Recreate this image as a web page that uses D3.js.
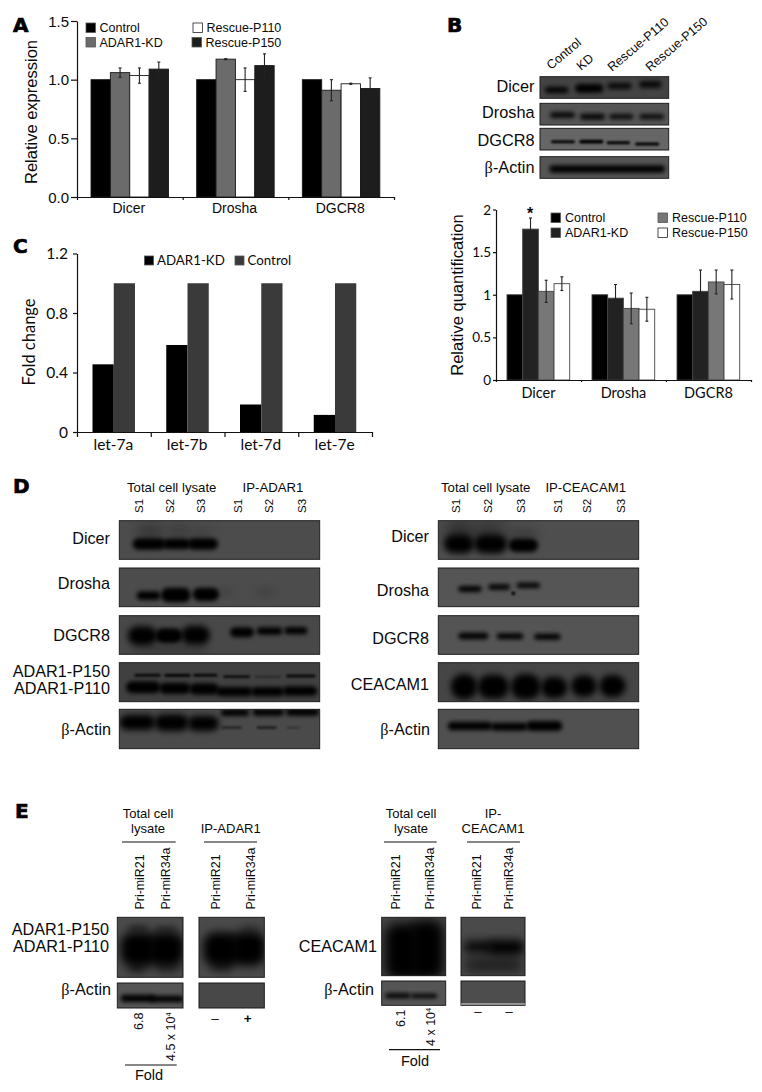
<!DOCTYPE html>
<html><head><meta charset="utf-8">
<script src="https://cdn.jsdelivr.net/npm/d3@7/dist/d3.min.js"></script>
<style>html,body{margin:0;padding:0;background:#fff}svg{display:block}text{font-family:"Liberation Sans",Arial,sans-serif;fill:#0a0a0a}</style>
</head><body><div id="c"></div>
<script>
// ---------- DATA ----------
const genes = ["Dicer","Drosha","DGCR8"];
const seriesA = ["Control","ADAR1-KD","Rescue-P110","Rescue-P150"];
const valuesA = [[1.0,1.06,1.035,1.09],[1.0,1.175,1.0,1.12],[1.0,0.91,0.965,0.925]];
const errorsA = [[0,0.04,0.065,0.06],[0,0.005,0.1,0.1],[0,0.09,0.005,0.09]];
const coloursA = ["#000","#6b6b6b","#fff","#1d1d1d"];
const ticksA = [0,0.5,1.0,1.5];

const seriesB = ["Control","ADAR1-KD","Rescue-P110","Rescue-P150"];
const valuesB = [[1.0,1.77,1.04,1.13],[1.0,0.96,0.84,0.83],[1.0,1.04,1.15,1.12]];
const errorsB = [[0,0.13,0.13,0.08],[0,0.16,0.18,0.14],[0,0.25,0.14,0.17]];
const coloursB = ["#000","#222","#777","#fff"];
const ticksB = [0,0.5,1,1.5,2];

const mirs = ["let-7a","let-7b","let-7d","let-7e"];
const seriesC = ["ADAR1-KD","Control"];
const kdC = [0.455,0.585,0.185,0.115];
const ctrlC = [1,1,1,1];
const ticksC = [0,0.4,0.8,1.2];

// Western-blot gels, in densitometry units: box [x0,x1,y0,y1]; bands [x0,x1,centre,height,opacity,blur]
const gelsB = [
 {bg:"#434343",box:[300,686,230,295],bands:[[315,385,270,20,.95],[405,490,265,26,1],[502,575,258,20,.85],[597,665,253,22,.85]]},
 {bg:"#555",box:[300,686,310,375],bands:[[330,405,345,18,.9],[420,495,350,18,.95],[508,580,350,16,.9],[598,672,350,16,.9]]},
 {bg:"#666",box:[300,686,385,450],bands:[[333,405,425,9,.95],[418,490,425,11,1],[500,570,428,9,1],[585,658,432,9,1]]},
 {bg:"#555",box:[300,686,470,535],bands:[[328,675,507,22,1]]}
];
const gelsDL = [
 {bg:"#4c4c4c",box:[358,959,152,268],bands:[[410,490,185,44,.28,6],[505,570,185,44,.2,6],[575,640,190,36,.15,6],[398,497,222,34,1],[488,572,222,32,1],[563,654,222,34,1]]},
 {bg:"#4c4c4c",box:[358,959,294,410],bands:[[410,482,377,26,1],[483,572,375,44,1],[578,657,373,40,1],[665,695,365,14,.25,4],[770,820,366,14,.25,4]]},
 {bg:"#484848",box:[358,959,437,553],bands:[[383,472,497,56,1,3],[466,547,497,44,1],[543,630,495,56,1,3],[690,762,487,30,1],[770,847,483,22,1],[853,922,482,22,1],[400,620,535,20,.3,5]]},
 {bg:"#404040",box:[358,959,578,695],bands:[[403,482,616,9,.85],[493,572,616,10,.85],[580,652,616,9,.85],[670,750,620,8,.8],[765,842,620,5,.45],[858,947,618,9,.85],[378,482,652,36,1],[478,572,655,34,1],[568,657,657,34,1],[648,757,665,28,1],[753,852,665,28,1],[848,952,663,28,1]]},
 {bg:"#4a4a4a",box:[358,959,718,836],bands:[[358,467,757,46,1,3],[463,567,758,50,1,3],[563,657,760,46,1,3],[663,747,728,20,1],[758,852,727,20,1],[858,957,726,22,1],[665,725,773,7,.6],[770,830,773,8,.6],[860,900,773,5,.35]]}
];
const gelsDR = [
 {bg:"#4e4e4e",box:[295,896,152,268],bands:[[315,400,185,50,.55,8],[405,495,185,50,.45,8],[510,590,195,30,.3,6],[312,402,222,56,1,3],[402,502,222,56,1,3],[506,594,226,40,1]]},
 {bg:"#555",box:[295,896,294,410],bands:[[355,425,357,18,1],[445,510,351,16,1],[530,600,346,16,1],[514,526,370,11,1,1]]},
 {bg:"#545454",box:[295,896,437,553],bands:[[355,445,498,20,1],[470,550,499,18,1],[582,662,500,18,1]]},
 {bg:"#454545",box:[295,896,578,695],bands:[[333,412,650,76,1,3],[413,507,650,72,1,3],[513,602,650,76,1,3],[603,682,652,64,1,3],[693,770,648,64,1,3],[778,857,648,66,1,3]]},
 {bg:"#505050",box:[295,896,718,836],bands:[[323,457,768,26,1],[453,562,770,24,1],[558,667,768,30,1]]}
];
const gelsEL = [
 {bg:"#4a4a4a",box:[352,549,352,532],bands:[[385,445,385,12,.7,3],[465,530,388,12,.6,3],[362,470,447,100,1,5],[445,552,447,100,1,5],[385,440,500,30,.7,5],[465,540,500,30,.5,5]]},
 {bg:"#4a4a4a",box:[597,793,352,532],bands:[[610,720,447,100,1,5],[695,797,447,100,1,5],[630,700,495,34,.6,5],[720,780,390,24,.4,5]]},
 {bg:"#555",box:[352,549,549,624],bands:[[362,465,595,22,1],[450,552,597,20,1]]},
 {bg:"#484848",box:[597,793,549,624],bands:[]}
];
const gelsER = [
 {bg:"#454545",box:[275,467,352,527],bands:[[285,390,455,170,1,6],[360,462,450,180,1,6]]},
 {bg:"#4a4a4a",box:[513,705,352,527],bands:[[520,610,440,34,.95,5],[590,705,442,46,1,5],[520,700,495,44,.6,6]]},
 {bg:"#555",box:[275,467,543,616],bands:[[285,362,587,15,1],[363,442,588,14,1]]},
 {bg:"#4d4d4d",box:[513,705,543,616],bands:[]}
];

// ---------- SETUP ----------
const svg = d3.select("#c").append("svg").attr("width",762).attr("height",1092).attr("viewBox","0 0 762 1092");
const defs = svg.append("defs");
[1,2,3,4,5,6,7,8].forEach(s=>defs.append("filter").attr("id","b"+s)
   .attr("x","-50%").attr("y","-150%").attr("width","200%").attr("height","400%")
   .append("feGaussianBlur").attr("stdDeviation",s));
const font = (sel,size,fam,w)=>sel.style("font-size",size+"px").style("font-family",fam||null).style("font-weight",w||null);
function txt(x,y,s,size,anchor,rot,fam){
  const t = svg.append("text").attr("text-anchor",anchor||"start").text(s);
  font(t,size,fam);
  t.attr("transform",`translate(${x},${y})`+(rot?` rotate(${rot})`:""));
  return t;
}
function panel(x,y,s){ 
  const t=txt(x,y,s,20,"start",0,"'DejaVu Sans'");
  t.style("font-weight","bold").style("stroke","#000").style("stroke-width",".7px").style("fill","#000");
}
function actin(x,y,size){ // Symbol-style beta
  const t = svg.append("text").attr("text-anchor","end").attr("x",x).attr("y",y);
  font(t,size);
  t.append("tspan").style("font-family","'Liberation Serif'").text("β");
  t.append("tspan").text("-Actin");
}
function styleAxis(g,w){ g.selectAll("path,line").attr("stroke","#111").attr("stroke-width",w||1.2); g.selectAll("text").remove(); }

// ---------- bar charts A, B ----------
function groupedBars(o){
  const y = d3.scaleLinear().domain(o.yDomain).range([o.y0,o.y1]);
  const x0 = d3.scaleBand().domain(genes).range([o.x0,o.x1]);
  const x1 = d3.scaleBand().domain(o.series).range([o.pad,o.pad+o.inner]);
  genes.forEach((g,i)=>{
    const G = svg.append("g").attr("transform",`translate(${x0(g)},0)`);
    G.selectAll("rect").data(o.values[i]).join("rect")
      .attr("x",(d,j)=>x1(o.series[j])).attr("y",d=>y(d)).attr("width",x1.bandwidth()).attr("height",d=>y(0)-y(d))
      .attr("fill",(d,j)=>o.colours[j]).attr("stroke",o.barStroke).attr("stroke-width",o.sw);
    const eb = G.selectAll("g.e").data(o.errors[i].map((e,j)=>({e,j,v:o.values[i][j]})).filter(d=>d.e>0)).join("g").attr("stroke",o.errStroke).attr("stroke-width",1.1);
    const cx = d=>x1(o.series[d.j])+x1.bandwidth()/2;
    eb.append("line").attr("x1",cx).attr("x2",cx).attr("y1",d=>y(d.v-d.e)).attr("y2",d=>y(d.v+d.e));
    ["-","+"].forEach(sg=>eb.append("line").attr("x1",d=>cx(d)-1.5).attr("x2",d=>cx(d)+1.5)
      .attr("y1",d=>y(d.v+(sg=="+"?d.e:-d.e))).attr("y2",d=>y(d.v+(sg=="+"?d.e:-d.e))));
    txt(x0(g)+x0.bandwidth()/2+o.labelDx,o.labelY,g,o.labelSize,"middle",0,o.labelFont);
  });
  const ax = svg.append("g").attr("transform",`translate(${o.x0},0)`).call(d3.axisLeft(y).tickValues(o.ticks).tickSize(o.tick).tickSizeOuter(0));
  styleAxis(ax);
  o.ticks.forEach(t=>txt(o.x0-o.tick-2,y(t)+o.tickDy,o.fmt(t),o.tickFont,"end",0,o.labelFont));
  const bx = svg.append("g").attr("transform",`translate(0,${o.y0})`).call(d3.axisBottom(d3.scaleLinear().domain([0,3]).range([o.x0,o.x1])).tickValues([0,1,2,3]).tickSize(o.xtick).tickSizeOuter(0));
  styleAxis(bx);
  return y;
}
const yA = groupedBars({series:seriesA,values:valuesA,errors:errorsA,colours:coloursA,yDomain:[0,1.5],y0:197,y1:21,x0:77,x1:394,pad:14,inner:77.5,
  barStroke:"#1a1a1a",sw:.9,errStroke:"#222",labelDx:-1,labelY:213,labelSize:14,ticks:ticksA,tick:6,tickDy:5.5,tickFont:15,fmt:d3.format(".1f"),xtick:3});
const yB = groupedBars({series:seriesB,values:valuesB,errors:errorsB,colours:coloursB,yDomain:[0,2],y0:380,y1:209.5,x0:496,x1:751,pad:11,inner:62.7,
  barStroke:"#444",sw:.9,errStroke:"#222",labelDx:0,labelY:398,labelSize:14.5,labelFont:"Lato",ticks:ticksB,tick:3,tickDy:5,tickFont:13.5,fmt:d=>String(d),xtick:2});
txt(37,112,"Relative expression",16.5,"middle",-90);
txt(463,295,"Relative quantification",16.5,"middle",-90);
txt(530,yB(1.77+0.13)+1,"*",16,"middle",0).style("font-weight","bold");

function legend(items,w,h,tx,size,fam){
  const g=svg.append("g");
  items.forEach(it=>{
    g.append("rect").attr("x",it[0]).attr("y",it[1]).attr("width",w).attr("height",h).attr("fill",it[3]).attr("stroke",it[3]=="#fff"?"#222":"#555").attr("stroke-width",.8);
    txt(it[0]+w+tx,it[1]+h-.3,it[2],size,"start",0,fam);
  });
}
legend([[86,23,seriesA[0],coloursA[0]],[86,37.5,seriesA[1],coloursA[1]],[193,23,seriesA[2],coloursA[2]],[192,37.5,seriesA[3],coloursA[3]]],9.5,9.5,4,12.5);
legend([[551,213,seriesB[0],coloursB[0]],[551,228,seriesB[1],coloursB[1]],[658,213,seriesB[2],coloursB[2]],[658,228,seriesB[3],coloursB[3]]],9.5,9.5,4.5,12.5);

// ---------- panel C ----------
{
  const y = d3.scaleLinear().domain([0,1.2]).range([432,253.5]);
  const x0 = d3.scaleBand().domain(mirs).range([77,372]);
  const x1 = d3.scaleBand().domain(seriesC).range([15.5,58]);
  const cols = {"ADAR1-KD":"#000","Control":"#3a3a3a"};
  mirs.forEach((m,i)=>{
    const G=svg.append("g").attr("transform",`translate(${x0(m)},0)`);
    [[seriesC[0],kdC[i]],[seriesC[1],ctrlC[i]]].forEach(([s,v])=>G.append("rect").attr("x",x1(s)).attr("width",x1.bandwidth()).attr("y",y(v)).attr("height",y(0)-y(v)).attr("fill",cols[s]));
    txt(x0(m)+x0.bandwidth()/2-.5,450,m,15.5,"middle",0,"Lato");
  });
  styleAxis(svg.append("g").attr("transform","translate(77,0)").call(d3.axisLeft(y).tickValues(ticksC).tickSize(4).tickSizeOuter(0)));
  styleAxis(svg.append("g").attr("transform","translate(0,432)").call(d3.axisBottom(d3.scaleLinear().domain([0,4]).range([77,372])).tickValues([0,1,2,3,4]).tickSize(5).tickSizeOuter(0)));
  ticksC.forEach(t=>txt(68,y(t)+5.5,String(t),15.5,"end",0,"Lato"));
  txt(35,342,"Fold change",16.5,"middle",-90,"Lato");
  legend([[144.5,256,seriesC[0],cols[seriesC[0]]],[235,256,seriesC[1],cols[seriesC[1]]]],9,9,3.5,13.3,"Lato");
}

// ---------- gels ----------
let clipId=0;
function drawGels(gels,ox,oy){
  const sx=d3.scaleLinear().domain([0,3]).range([ox,ox+1]);
  const sy=d3.scaleLinear().domain([0,3]).range([oy,oy+1]);
  gels.forEach(g=>{
    const [a,b,c,d]=g.box, id="cp"+(clipId++);
    defs.append("clipPath").attr("id",id).append("rect").attr("x",sx(a)).attr("y",sy(c)).attr("width",sx(b)-sx(a)).attr("height",sy(d)-sy(c));
    const G=svg.append("g");
    const inner=G.append("g").attr("clip-path",`url(#${id})`);
    inner.append("rect").attr("x",sx(a)).attr("y",sy(c)).attr("width",sx(b)-sx(a)).attr("height",sy(d)-sy(c)).attr("fill",g.bg);
    inner.selectAll("rect.band").data(g.bands).join("rect").attr("class","band")
      .attr("x",e=>sx(e[0])).attr("width",e=>sx(e[1])-sx(e[0]))
      .attr("y",e=>sy(e[2]-e[3]/2)).attr("height",e=>sy(e[3])-sy(0))
      .attr("rx",e=>Math.min(sy(e[3])-sy(0),24)/2)
      .attr("fill","#030303").attr("opacity",e=>e[4])
      .attr("filter",e=>`url(#b${e[5]||(e[3]<14?1:2)})`);
    G.append("rect").attr("x",sx(a)).attr("y",sy(c)).attr("width",sx(b)-sx(a)).attr("height",sy(d)-sy(c)).attr("fill","none").attr("stroke","#1a1a1a").attr("stroke-width",1);
  });
}
drawGels(gelsB,440,0);
drawGels(gelsDL,0,470);
drawGels(gelsDR,340,470);
drawGels(gelsEL,0,800);
drawGels(gelsER,290,800);
// white sliver at the foot of the last actin strip
const cut=d3.scaleLinear().domain([0,3]).range([290,291]);
svg.append("line").attr("x1",cut(513)).attr("x2",cut(705)).attr("y1",1004).attr("y2",1004).attr("stroke","#ddd").attr("stroke-width",1);

// ---------- gel labels ----------
// Panel B
txt(534.5,92,"Dicer",16.3,"end"); txt(534.5,117.5,"Drosha",16.3,"end"); txt(534.5,146,"DGCR8",16.3,"end"); actin(534.5,173,16.3);
[["Control",551,70],["KD",581,71],["Rescue-P110",612,72],["Rescue-P150",650,72]].forEach(d=>txt(d[1],d[2],d[0],12.6,"start",-40));
// Panel D
txt(110,544,"Dicer",16.2,"end"); txt(110,588.7,"Drosha",16.2,"end"); txt(110,640.7,"DGCR8",16.2,"end");
txt(110,677,"ADAR1-P150",16.2,"end"); txt(110,694,"ADAR1-P110",16.2,"end"); actin(111,735,16.2);
txt(171.7,491.5,"Total cell lysate",13.2,"middle"); txt(273,491.5,"IP-ADAR1",13.2,"middle");
[138,169,200,237,268,301].forEach((x,i)=>txt(x+4.5,513,"S"+(i%3+1),11.5,"start",-90));
txt(429,542,"Dicer",16.2,"end"); txt(429,595.7,"Drosha",16.2,"end"); txt(429,643.7,"DGCR8",16.2,"end"); txt(429,690,"CEACAM1",16.2,"end"); actin(430,735,16.2);
txt(485.7,491.5,"Total cell lysate",13.2,"middle"); txt(585.7,491.5,"IP-CEACAM1",13.2,"middle");
[455,487.7,520.7,557.3,586.7,620.7].forEach((x,i)=>txt(x+4.5,513,"S"+(i%3+1),11.5,"start",-90));
// Panel E
function rule(x1,x2,y,w){svg.append("line").attr("x1",x1).attr("x2",x2).attr("y1",y).attr("y2",y).attr("stroke","#111").attr("stroke-width",w||1.2);}
txt(148,818,"Total cell",13,"middle"); txt(148,833,"lysate",13,"middle"); rule(122,175.7,842);
txt(230.7,833,"IP-ADAR1",13,"middle"); rule(204,257,842);
[[139,"Pri-miR21"],[165.7,"Pri-miR34a"],[215,"Pri-miR21"],[250,"Pri-miR34a"]].forEach(d=>txt(d[0]+4.5,909.5,d[1],12.4,"start",-90));
txt(109,935,"ADAR1-P150",16.2,"end"); txt(109,952,"ADAR1-P110",16.2,"end"); actin(111,995,16.2);
function fold(x,y,a,sup,size){const t=svg.append("text").attr("text-anchor","start").attr("transform",`translate(${x},${y}) rotate(-90)`);font(t,size);t.append("tspan").text(a);if(sup)t.append("tspan").attr("dy",-4).style("font-size",(size*.6)+"px").text(sup);}
fold(142.5,1030,"6.8",null,12.5); fold(174.5,1061,"4.5 x 10","4",12.5);
rule(125,176.7,1065); txt(149,1079.5,"Fold",14.5,"middle");
txt(215,1023,"–",13.5,"middle"); txt(247.7,1023,"+",13.5,"middle").style("font-weight","bold");
txt(411,818,"Total cell",13,"middle"); txt(411,833,"lysate",13,"middle"); rule(384,436.7,842);
txt(493,818,"IP-",13,"middle"); txt(493,833,"CEACAM1",13,"middle"); rule(467,520,842);
[[395,"Pri-miR21"],[429,"Pri-miR34a"],[476.7,"Pri-miR21"],[508,"Pri-miR34a"]].forEach(d=>txt(d[0]+4.5,909.5,d[1],12.4,"start",-90));
txt(377,951.7,"CEACAM1",16.2,"end"); actin(374,995,16.2);
fold(404.5,1027,"6.1",null,12.5); fold(435,1046,"4 x 10","4",12.5);
rule(389,440,1049.7); txt(415,1066,"Fold",14.5,"middle");
txt(478,1016,"–",13.5,"middle"); txt(509,1016,"–",13.5,"middle");

// ---------- panel letters ----------
panel(13,32,"A"); panel(447,32,"B"); panel(13,253,"C"); panel(13,493,"D"); panel(15,818,"E");
</script></body></html>
